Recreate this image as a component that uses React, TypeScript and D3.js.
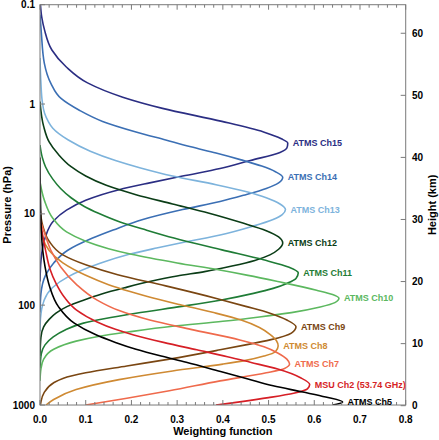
import React from "react";
import * as d3 from "d3";

// ---- data: [height (km), weighting function] ----
const ch15 = [[64.6,0.001],[62.5,0.004],[60.5,0.010],[57.3,0.026],[54.6,0.057],[52.0,0.104],[49.7,0.181],[47.9,0.268],[45.8,0.398],[44.1,0.489],[43.0,0.528],[42.3,0.542],[41.5,0.54],[40.8,0.525],[39.5,0.46],[38.2,0.394],[37.0,0.312],[35.9,0.24],[34.8,0.173],[33.1,0.1],[31.5,0.058],[29.8,0.03],[27.0,0.011],[23.3,0.002],[20,0]];
const ch14 = [[63,0],[60,0.003],[55.2,0.0094],[51.9,0.024],[49.5,0.046],[47.6,0.086],[45.8,0.137],[44.1,0.21],[42.8,0.275],[41.7,0.33],[40.7,0.385],[39.6,0.44],[38.6,0.485],[37.7,0.515],[36.8,0.531],[35.9,0.522],[35.0,0.495],[33.9,0.445],[32.9,0.394],[31.6,0.312],[30.0,0.225],[28.3,0.16],[27.0,0.115],[25.0,0.06],[23.0,0.03],[21.0,0.012],[18.0,0.002],[15,0]];
const ch13 = [[56,0],[52,0.002],[49,0.005],[47.1,0.01],[45.8,0.018],[44.7,0.028],[42.8,0.062],[41.0,0.11],[39.5,0.165],[38.3,0.22],[37.0,0.29],[35.6,0.385],[34.5,0.45],[33.5,0.495],[32.5,0.525],[31.6,0.537],[30.8,0.53],[30.0,0.51],[28.8,0.46],[27.5,0.394],[26.4,0.32],[25.4,0.255],[24.4,0.195],[22.9,0.13],[20.8,0.062],[19.0,0.027],[17.0,0.009],[14.0,0.001],[12,0]];
const ch12 = [[49,0],[45,0.008],[42.5,0.02],[40.5,0.04],[38.5,0.068],[37.0,0.1],[35.5,0.145],[34.0,0.21],[32.5,0.29],[31.0,0.37],[29.5,0.44],[28.2,0.495],[27.2,0.522],[26.2,0.531],[25.2,0.522],[24.3,0.503],[23.4,0.47],[22.5,0.42],[21.6,0.36],[20.9,0.3],[20.0,0.24],[19.0,0.185],[18.0,0.135],[17.0,0.095],[16.0,0.06],[14.9,0.035],[13.9,0.02],[12.7,0.008],[11.0,0.002],[8,0]];
const ch11 = [[42,0],[40,0.005],[38.5,0.012],[36.5,0.028],[35.0,0.045],[33.5,0.068],[32.1,0.097],[31.0,0.128],[29.6,0.175],[28.3,0.232],[27.0,0.293],[25.1,0.398],[23.5,0.489],[22.3,0.545],[21.4,0.565],[20.5,0.56],[19.7,0.54],[18.9,0.51],[18.1,0.467],[17.0,0.394],[16.0,0.31],[14.9,0.21],[14.0,0.14],[13.3,0.095],[12.2,0.055],[11.1,0.029],[9.8,0.011],[8.4,0.003],[6,0]];
const ch10 = [[36,0],[33,0.01],[30.2,0.028],[28.0,0.058],[26.5,0.1],[25.3,0.15],[24.4,0.2],[23.0,0.3],[21.9,0.39],[21.0,0.455],[20.0,0.52],[18.6,0.605],[17.9,0.64],[17.3,0.654],[16.6,0.645],[15.9,0.613],[15.0,0.55],[14.3,0.48],[13.6,0.4],[12.8,0.29],[11.9,0.195],[11.2,0.13],[10.4,0.079],[9.1,0.03],[7.5,0.008],[5.9,0.002],[4,0]];
const ch9 = [[32,0],[29,0.006],[26.5,0.02],[24.3,0.05],[22.7,0.1],[21.1,0.17],[19.3,0.275],[17.2,0.39],[16.0,0.45],[14.9,0.503],[13.8,0.54],[12.7,0.56],[11.7,0.55],[10.6,0.503],[9.8,0.45],[9.0,0.394],[7.5,0.283],[6.4,0.19],[5.3,0.1],[4.4,0.05],[3.7,0.03],[2.1,0.009],[0.6,0.002],[0.11,0.001]];
const ch8 = [[30,0],[27,0.006],[25,0.02],[23,0.05],[21,0.1],[19.5,0.15],[18.4,0.197],[17.6,0.235],[16.3,0.305],[15.0,0.38],[13.8,0.44],[12.6,0.48],[11.5,0.503],[10.5,0.517],[9.6,0.521],[8.7,0.515],[8.0,0.49],[7.3,0.45],[6.7,0.4],[5.6,0.29],[4.2,0.173],[2.6,0.079],[1.0,0.03],[0.11,0.013]];
const ch7 = [[30,0],[27.8,0.01],[25,0.024],[22.4,0.045],[19.5,0.08],[17.0,0.125],[15.4,0.17],[13.8,0.24],[12.3,0.33],[10.6,0.437],[9.5,0.49],[8.5,0.52],[7.5,0.54],[6.7,0.546],[6.0,0.535],[5.3,0.495],[4.0,0.394],[2.4,0.283],[1.2,0.19],[0.11,0.1]];
const msu2 = [[30,0],[25.1,0.012],[22,0.022],[19.7,0.035],[17.5,0.053],[15.4,0.08],[13.5,0.125],[12.3,0.165],[11.4,0.205],[10.2,0.27],[9.0,0.343],[7.9,0.41],[7.0,0.46],[5.9,0.52],[4.5,0.57],[3.4,0.59],[2.7,0.585],[2.0,0.555],[1.3,0.5],[0.7,0.445],[0.3,0.405],[0.11,0.385]];
const ch5 = [[40,0],[30,0.002],[25,0.006],[22.4,0.011],[19.2,0.021],[16.0,0.04],[13.3,0.075],[11.5,0.12],[10.2,0.165],[9.1,0.21],[8.0,0.265],[7.0,0.32],[5.5,0.395],[4.3,0.455],[3.2,0.51],[2.2,0.575],[1.4,0.625],[0.6,0.662],[0.11,0.64]];

const channelNames = ["ATMS Ch15","ATMS Ch14","ATMS Ch13","ATMS Ch12","ATMS Ch11","ATMS Ch10","ATMS Ch9","ATMS Ch8","ATMS Ch7","MSU Ch2 (53.74 GHz)","ATMS Ch5"];
const channelData = [ch15, ch14, ch13, ch12, ch11, ch10, ch9, ch8, ch7, msu2, ch5];
const channelColors = ["#2b2e83","#3b6fb4","#7db3dc","#0b3d17","#1f7c36","#5cb85f","#7a4612","#cf8a33","#ef6a4c","#d61f26","#000000"];

const xTicks = [0, 0.1, 0.2, 0.3, 0.4, 0.5, 0.6, 0.7, 0.8];
const heightTicks = [0, 10, 20, 30, 40, 50, 60];
const pressureTicks = ["0.1", "1", "10", "100", "1000"];
const pressureTickHeights = [64.6, 48.6, 30.9, 16.2, 0.11];

const W = 439, H = 440;
const left = 40, right = 405.7, top = 4.7;
const hTop = 64.6, hBottom = 0.11;

export default function App() {
  const x = d3.scaleLinear().domain([0, 0.8]).range([left, right]);
  const y = d3.scaleLinear().domain([0, hTop]).range([405.7, top]);
  const bottom = y(hBottom);
  const line = d3.line<number[]>()
    .x(d => x(d[1]))
    .y(d => y(d[0]))
    .curve(d3.curveMonotoneY);
  const minor = d3.range(0, 0.8001, 0.02);
  const font = "'Liberation Sans', Arial, sans-serif";
  return (
    <svg width={W} height={H} style={{ position: "absolute", left: 0, top: 0 }} fontFamily={font}>
      <defs>
        <clipPath id="plot">
          <rect x={left} y={top} width={right - left} height={bottom - top} />
        </clipPath>
      </defs>
      <g clipPath="url(#plot)">
        {channelData.map((d, i) => (
          <path key={i} d={line(d) || ""} fill="none" stroke={channelColors[i]} strokeWidth={1.6} />
        ))}
      </g>
      <rect x={left} y={top} width={right - left} height={bottom - top} fill="none" stroke="#7a7a7a" strokeWidth={1} />
      {minor.map((v, i) => {
        const major = i % 5 === 0;
        const len = major ? 5 : 3;
        return (
          <g key={i} stroke="#7a7a7a">
            <line x1={x(v)} x2={x(v)} y1={bottom} y2={bottom - len} />
            <line x1={x(v)} x2={x(v)} y1={top} y2={top + len} />
          </g>
        );
      })}
      {xTicks.map((v, i) => (
        <text key={i} x={x(v)} y={422.5} textAnchor="middle" fontSize={10} fontWeight="bold">{v.toFixed(1)}</text>
      ))}
      {heightTicks.map((h, i) => (
        <g key={i}>
          <line x1={right} x2={right - 5} y1={y(h)} y2={y(h)} stroke="#7a7a7a" />
          <text x={412} y={y(h)} dy="0.35em" fontSize={10} fontWeight="bold">{h}</text>
        </g>
      ))}
      {pressureTicks.map((p, i) => (
        <g key={i}>
          <line x1={left} x2={left + 5} y1={y(pressureTickHeights[i])} y2={y(pressureTickHeights[i])} stroke="#7a7a7a" />
          <text x={35} y={y(pressureTickHeights[i])} dy="0.35em" textAnchor="end" fontSize={10} fontWeight="bold">{p}</text>
        </g>
      ))}
      {channelData.map((d, i) => {
        const peak = d.reduce((a, b) => (b[1] > a[1] ? b : a));
        return (
          <text key={i} x={x(peak[1]) + 5} y={y(peak[0])} dy="0.35em" fontSize={9} fontWeight="bold" fill={channelColors[i]}>
            {channelNames[i]}
          </text>
        );
      })}
      <text x={(left + right) / 2} y={435} textAnchor="middle" fontSize={11} fontWeight="bold">Weighting function</text>
      <text transform={`translate(10.5,${(top + bottom) / 2}) rotate(-90)`} textAnchor="middle" fontSize={11} fontWeight="bold">Pressure (hPa)</text>
      <text transform={`translate(436,${(top + bottom) / 2}) rotate(-90)`} textAnchor="middle" fontSize={11} fontWeight="bold">Height (km)</text>
    </svg>
  );
}
